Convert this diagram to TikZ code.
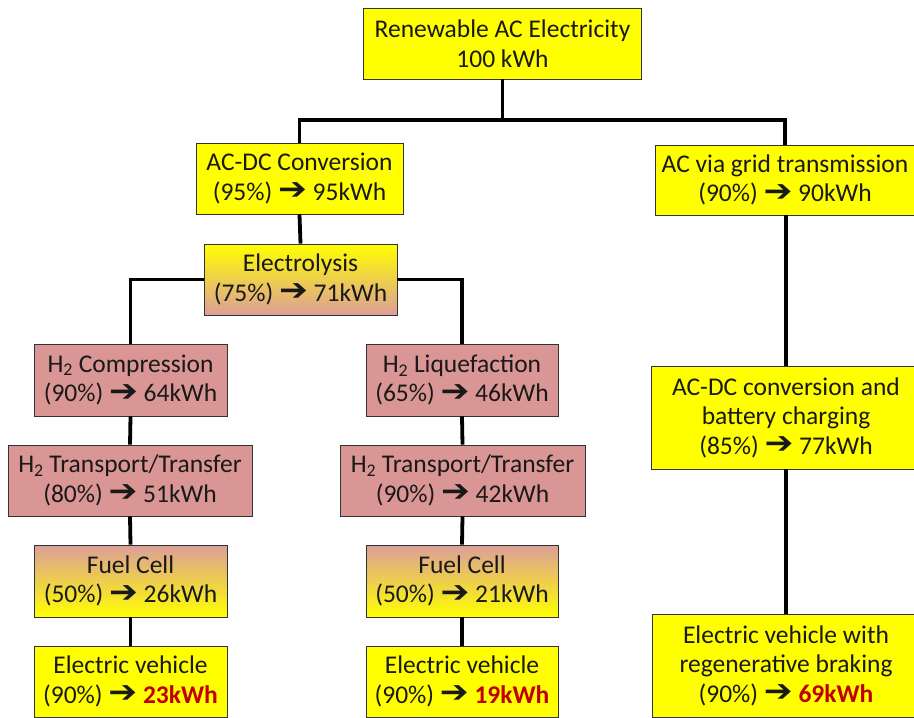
\documentclass[tikz,border=0pt]{standalone}
\usepackage{fontspec}
\usepackage{graphicx}
\setmainfont{Carlito}
\newfontfamily\symfont{DejaVu Sans}
\definecolor{boxyellow}{HTML}{FFFF00}
\definecolor{boxpink}{HTML}{D99694}
\definecolor{fadepink}{HTML}{DC9E9A}
\definecolor{cream}{HTML}{F2E29A}
\definecolor{hotred}{HTML}{C00000}
\definecolor{edge}{HTML}{333333}
\newcommand{\yields}{\raisebox{0.5pt}{\scalebox{1.35}[1.2]{\symfont\bfseries ➔}}}
\newcommand{\hot}[1]{\textcolor{hotred}{\bfseries #1}}
\tikzset{
  box/.style={draw=edge, line width=0.9pt, align=center, inner sep=0pt,
    font=\fontsize{25.5}{29.5}\selectfont, text=black!90},
  ybox/.style={box, fill=boxyellow},
  pbox/.style={box, fill=boxpink},
  ptoy/.style={box, top color=fadepink, middle color=cream, bottom color=boxyellow},
  ytop/.style={box, top color=boxyellow, middle color=cream, bottom color=fadepink},
  conn/.style={line width=3.8pt, black},
}
\begin{document}
\begin{tikzpicture}[x=1pt, y=-1pt]
  \useasboundingbox (0,0) rectangle (914,718);

  % top-level source and first split
  \node[ybox, minimum width=278pt, minimum height=71pt] (src) at (502.5,43.5) {Renewable AC Electricity\\100 kWh};
  \node[ybox, minimum width=207pt, minimum height=71pt] (acdc) at (299.5,178.5) {AC-DC Conversion\\(95\%) \yields{} 95kWh};
  \node[ybox, minimum width=260pt, minimum height=70pt] (grid) at (785,180) {AC via grid transmission\\(90\%) \yields{} 90kWh};

  % hydrogen path
  \node[ytop, minimum width=193pt, minimum height=71pt] (elec) at (300.5,279.5) {Electrolysis\\(75\%) \yields{} 71kWh};

  \node[pbox, minimum width=193pt, minimum height=72pt] (comp) at (130.5,380) {H\textsubscript{2} Compression\\(90\%) \yields{} 64kWh};
  \node[pbox, minimum width=244pt, minimum height=71pt] (trl) at (130,480.5) {H\textsubscript{2} Transport/Transfer\\(80\%) \yields{} 51kWh};
  \node[ptoy, minimum width=193pt, minimum height=72pt] (fcl) at (130.5,581) {Fuel Cell\\(50\%) \yields{} 26kWh};
  \node[ybox, minimum width=193pt, minimum height=71pt] (evl) at (130.5,681.5) {Electric vehicle\\(90\%) \yields{} \hot{23kWh}};

  \node[pbox, minimum width=192pt, minimum height=72pt] (liq) at (462,380) {H\textsubscript{2} Liquefaction\\(65\%) \yields{} 46kWh};
  \node[pbox, minimum width=245pt, minimum height=71pt] (trr) at (462.5,480.5) {H\textsubscript{2} Transport/Transfer\\(90\%) \yields{} 42kWh};
  \node[ptoy, minimum width=192pt, minimum height=72pt] (fcr) at (462,581) {Fuel Cell\\(50\%) \yields{} 21kWh};
  \node[ybox, minimum width=192pt, minimum height=71pt] (evr) at (462,681.5) {Electric vehicle\\(90\%) \yields{} \hot{19kWh}};

  % battery path
  \node[ybox, minimum width=270pt, minimum height=103pt] (batt) at (786,417.5) {AC-DC conversion and\\battery charging\\(85\%) \yields{} 77kWh};
  \node[ybox, minimum width=268pt, minimum height=103pt] (regen) at (786,665.5) {Electric vehicle with\\regenerative braking\\(90\%) \yields{} \hot{69kWh}};

  % connectors
  \coordinate (bar) at (502.5,120);
  \draw[conn] (src.south) -- (bar);
  \draw[conn] (acdc.north) |- (bar) -| (grid.north);
  \draw[conn] (acdc.south) -- (elec.north);
  \draw[conn] (elec.west) -| (comp.north);
  \draw[conn] (elec.east) -| (liq.north);
  \draw[conn] (comp.south) -- (trl.north);
  \draw[conn] (trl.south) -- (fcl.north);
  \draw[conn] (fcl.south) -- (evl.north);
  \draw[conn] (liq.south) -- (trr.north);
  \draw[conn] (trr.south) -- (fcr.north);
  \draw[conn] (fcr.south) -- (evr.north);
  \draw[conn] (grid.south -| batt.north) -- (batt.north);
  \draw[conn] (batt.south) -- (regen.north);
\end{tikzpicture}
\end{document}
